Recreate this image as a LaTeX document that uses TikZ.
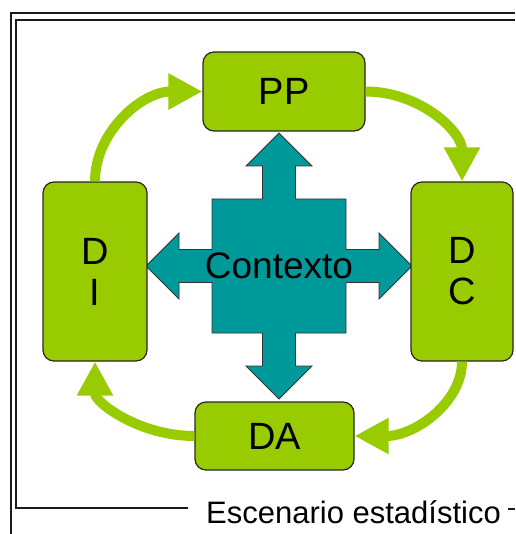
\documentclass[tikz,border=0pt]{standalone}
\usepackage{fontspec}
\setmainfont{Liberation Sans}
\usepackage{xcolor}
\usetikzlibrary{arrows.meta,positioning,calc}
\definecolor{leaf}{RGB}{153,204,0}
\definecolor{sea}{RGB}{0,153,153}

\begin{document}
\begin{tikzpicture}[x=1pt, y=-1pt,
    phase/.style={rectangle, draw=black!85, line width=1.2pt, fill=leaf, rounded corners=11pt, align=center, inner sep=0pt, font=\fontsize{38}{41}\selectfont},
    cyc/.style={leaf, line width=10pt, -{Triangle[length=34pt, width=34pt]}},
    frame/.style={line width=1.4pt, black!90}]

    \useasboundingbox (0,0) rectangle (515,534);

    % Frame and caption
    \draw[frame] (11,534) -- (11,13) -- (515,13);
    \draw[frame] (188,508) -- (16,508) -- (16,20) -- (515,20);
    \draw[frame] (508,509) -- (515,509);
    \node[anchor=base west, inner sep=0pt, font=\fontsize{31}{31}\selectfont] (title) at (206,523) {Escenario estadístico};

    % Context cross
    \coordinate (mid) at (279,266);
    \begin{scope}[shift={(mid)}]
    \draw[fill=sea, draw=black!80, line width=0.8pt]
        (-67,-67) -- (-16.5,-67) -- (-16.5,-100) -- (-33,-100) -- (0,-133) -- (33,-100) -- (16.5,-100) -- (16.5,-67)
        -- (67,-67) -- (67,-16.5) -- (100,-16.5) -- (100,-33) -- (133,0) -- (100,33) -- (100,16.5) -- (67,16.5)
        -- (67,67) -- (16.5,67) -- (16.5,100) -- (33,100) -- (0,133) -- (-33,100) -- (-16.5,100) -- (-16.5,67)
        -- (-67,67) -- (-67,16.5) -- (-100,16.5) -- (-100,33) -- (-133,0) -- (-100,-33) -- (-100,-16.5) -- (-67,-16.5) -- cycle;
    \end{scope}
    \node[font=\fontsize{37}{37}\selectfont] (ctx) at (mid) {Contexto};

    % Phases
    \node[phase, minimum width=162pt, minimum height=79pt] (pp) at (284,91.5) {PP};
    \node[phase, minimum width=104pt, minimum height=179pt] (di) at (95,271.5) {D\\I};
    \node[phase, minimum width=102pt, minimum height=179pt] (dc) at (462,271.5) {D\\C};
    \node[phase, minimum width=159pt, minimum height=68pt] (da) at (274.5,436) {DA};

    % Cycle
    \draw[cyc] (di.north) .. controls +(0,-50) and +(-60,0) .. (pp.west);
    \draw[cyc] (pp.east) .. controls +(54,0) and +(0,-50) .. (dc.north);
    \draw[cyc] (dc.south) .. controls +(0,41) and +(60,0) .. (da.east);
    \draw[cyc] (da.west) .. controls +(-55,0) and +(0,41) .. (di.south);

\end{tikzpicture}
\end{document}
